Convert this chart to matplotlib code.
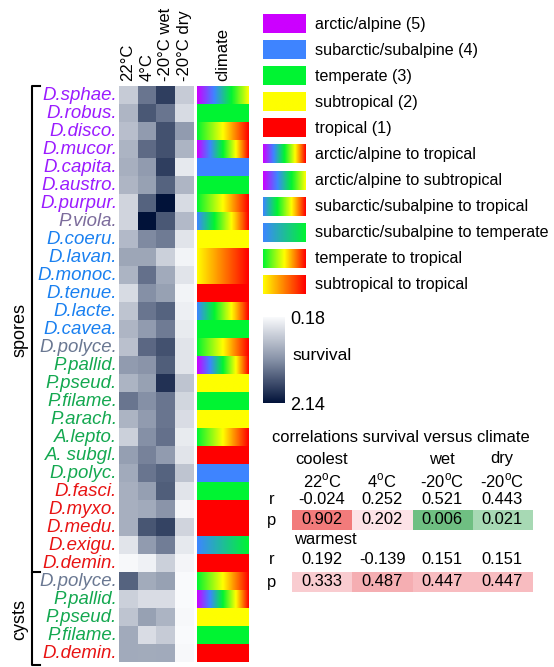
import numpy as np
import matplotlib.pyplot as plt
from matplotlib.colors import LinearSegmentedColormap
from matplotlib.patches import Rectangle

plt.rcParams['font.family'] = ['Liberation Sans', 'DejaVu Sans']
plt.rcParams['mathtext.fontset'] = 'custom'
plt.rcParams['mathtext.rm'] = 'Liberation Sans'

# data
species = ["D.sphae.", "D.robus.", "D.disco.", "D.mucor.", "D.capita.", "D.austro.",
           "D.purpur.", "P.viola.", "D.coeru.", "D.lavan.", "D.monoc.", "D.tenue.",
           "D.lacte.", "D.cavea.", "D.polyce.", "P.pallid.", "P.pseud.", "P.filame.",
           "P.arach.", "A.lepto.", "A. subgl.", "D.polyc.", "D.fasci.", "D.myxo.",
           "D.medu.", "D.exigu.", "D.demin.",
           "D.polyce.", "P.pallid.", "P.pseud.", "P.filame.", "D.demin."]
groups = ["arctic"] * 7 + ["viola"] + ["subarctic"] * 6 + ["polyce"] + ["temperate"] * 7 + \
         ["tropical"] * 5 + ["polyce", "temperate", "temperate", "temperate", "tropical"]
conditions = ["22°C", "4°C", "-20°C wet", "-20°C dry"]

# survival per row: 22C, 4C, -20C wet, -20C dry
survival = np.array([
    [0.61, 1.36, 1.79, 0.61],
    [0.81, 1.59, 1.36, 0.47],
    [0.73, 1.06, 1.65, 1.06],
    [0.83, 1.45, 1.65, 0.83],
    [0.87, 1.06, 1.79, 0.34],
    [0.81, 1.00, 1.51, 0.81],
    [0.53, 1.51, 2.14, 0.47],
    [0.53, 2.14, 1.59, 0.77],
    [0.77, 1.20, 1.32, 0.38],
    [0.96, 0.96, 0.57, 0.24],
    [0.83, 1.40, 0.92, 0.38],
    [0.47, 1.16, 1.00, 0.24],
    [0.67, 1.36, 1.51, 0.28],
    [0.81, 1.06, 1.32, 0.32],
    [0.71, 1.47, 1.65, 0.38],
    [1.06, 1.12, 1.55, 0.38],
    [0.83, 1.00, 1.89, 0.67],
    [1.36, 1.16, 1.36, 0.51],
    [0.83, 1.06, 1.36, 0.45],
    [0.57, 1.16, 1.40, 0.32],
    [1.02, 1.26, 1.06, 0.38],
    [0.92, 1.36, 1.51, 0.67],
    [0.87, 1.02, 1.55, 0.38],
    [0.87, 0.92, 1.12, 0.22],
    [0.87, 1.61, 1.75, 0.53],
    [0.38, 1.06, 1.30, 0.34],
    [0.20, 0.26, 0.57, 0.22],
    [1.51, 0.91, 1.00, 0.18],
    [0.57, 0.45, 0.45, 0.18],
    [0.67, 1.00, 0.83, 0.20],
    [0.92, 0.45, 0.61, 0.18],
    [0.92, 0.91, 0.92, 0.20],
])

# climate range per row: (from, to) with 5 arctic ... 1 tropical
clim_from = [5, 3, 3, 5, 4, 3, 3, 4, 2, 2, 2, 1, 4, 3, 3, 5, 2, 3, 2, 3, 1, 4, 3, 1, 1, 4, 1,
             3, 5, 2, 3, 1]
clim_to = [2, 3, 1, 1, 4, 3, 1, 1, 2, 1, 1, 1, 1, 3, 1, 1, 2, 3, 2, 1, 1, 4, 3, 1, 1, 3, 1,
           1, 1, 2, 3, 1]

legend_labels = ["arctic/alpine (5)", "subarctic/subalpine (4)", "temperate (3)",
                 "subtropical (2)", "tropical (1)", "arctic/alpine to tropical",
                 "arctic/alpine to subtropical", "subarctic/subalpine to tropical",
                 "subarctic/subalpine to temperate", "temperate to tropical",
                 "subtropical to tropical"]
legend_from = [5, 4, 3, 2, 1, 5, 5, 4, 4, 3, 2]
legend_to = [5, 4, 3, 2, 1, 1, 2, 1, 3, 1, 1]

corr_cols = ["22$^\\mathregular{o}$C", "4$^\\mathregular{o}$C",
             "-20$^\\mathregular{o}$C", "-20$^\\mathregular{o}$C"]
r_cool = ["-0.024", "0.252", "0.521", "0.443"]
p_cool = ["0.902", "0.202", "0.006", "0.021"]
r_warm = ["0.192", "-0.139", "0.151", "0.151"]
p_warm = ["0.333", "0.487", "0.447", "0.447"]
p_cool_col = ["#f27b7b", "#fde3e7", "#6fbf82", "#a7d9b4"]
p_warm_col = ["#f9ccd0", "#f5aeb2", "#f8bcc0", "#f8bcc0"]

# colours
name_col = {"arctic": "#9b1cff", "viola": "#7c6c9c", "subarctic": "#1a80f0",
            "polyce": "#6a7892", "temperate": "#14a850", "tropical": "#e81414"}
surv_cmap = LinearSegmentedColormap.from_list("surv", ["#f9fafc", "#8590a6", "#011239"])
clim_cmap = LinearSegmentedColormap.from_list(
    "clim", ["#ff0000", "#ffff00", "#00f531", "#3d86ff", "#cc00ff"])

W, H = 554, 667
fig = plt.figure(figsize=(W / 100, H / 100), dpi=100)


def px_axes(x0, y0, x1, y1):
    return fig.add_axes([x0 / W, 1 - y1 / H, (x1 - x0) / W, (y1 - y0) / H])


n = len(species)
top, rh = 86, 18

# heatmap
ax1 = px_axes(119, top, 194, top + n * rh)
ax1.imshow(survival, cmap=surv_cmap, vmin=0.18, vmax=2.14, aspect="auto",
           extent=[0, 4, n, 0], interpolation="nearest")
ax1.axis("off")

# climate column
ax2 = px_axes(197, top, 249, top + n * rh)
for i in range(n):
    grad = np.linspace(clim_from[i], clim_to[i], 200)[None, :]
    ax2.imshow(grad, cmap=clim_cmap, vmin=1, vmax=5, aspect="auto",
               extent=[0, 1, i + 1, i], interpolation="bilinear")
ax2.set_xlim(0, 1)
ax2.set_ylim(n, 0)
ax2.axis("off")

# colorbar
cax = px_axes(263, 317, 285, 403)
sm = plt.cm.ScalarMappable(cmap=surv_cmap, norm=plt.Normalize(0.18, 2.14))
cb = fig.colorbar(sm, cax=cax, ticks=[0.18, 2.14])
cb.ax.invert_yaxis()
cb.outline.set_visible(False)
cb.ax.tick_params(length=0, pad=4, labelsize=13)
cb.ax.set_yticklabels(["0.18", "2.14"])

# overlay for text, brackets, legend, table
ov = fig.add_axes([0, 0, 1, 1])
ov.set_xlim(0, W)
ov.set_ylim(H, 0)
ov.axis("off")

for i, name in enumerate(species):
    ov.text(117, top + rh * i + rh / 2 + 0.5, name, ha="right", va="center", fontsize=13.4,
            style="italic", color=name_col[groups[i]])

col_x = [128, 147, 165.5, 184.5]
for x, c in zip(col_x, conditions):
    ov.text(x, 81, c, rotation=90, ha="center", va="bottom", fontsize=12)
ov.text(223, 81, "climate", rotation=90, ha="center", va="bottom", fontsize=12)

# brackets
ov.plot([40, 32, 32], [86, 86, 572], color="black", lw=1.5)
ov.plot([40, 32, 32, 40], [572, 572, 665, 665], color="black", lw=1.5)
ov.text(20, 330, "spores", rotation=90, ha="center", va="center", fontsize=13)
ov.text(20, 620, "cysts", rotation=90, ha="center", va="center", fontsize=13)

# climate legend
for i, lab in enumerate(legend_labels):
    y0 = 14 + i * 26.1
    grad = np.linspace(legend_from[i], legend_to[i], 200)[None, :]
    ov.imshow(grad, cmap=clim_cmap, vmin=1, vmax=5, aspect="auto",
              extent=[263, 306, y0 + 19, y0], interpolation="bilinear")
    ov.text(315, y0 + 10, lab, ha="left", va="center", fontsize=11.6)
ov.set_xlim(0, W)
ov.set_ylim(H, 0)

ov.text(292, 356, "survival", ha="left", va="center", fontsize=12.5)

# correlation table
cx = [322, 382, 442, 502]
fs = 11.9
ov.text(272, 438, "correlations survival versus climate", ha="left", va="center", fontsize=fs)
ov.text(cx[0], 459, "coolest", ha="center", va="center", fontsize=fs)
ov.text(cx[2], 459, "wet", ha="center", va="center", fontsize=fs)
ov.text(cx[3], 459, "dry", ha="center", va="center", fontsize=fs)
for j in range(4):
    ov.text(cx[j], 481, corr_cols[j], ha="center", va="center", fontsize=fs)
    ov.add_patch(Rectangle((292 + 60.25 * j, 510), 60.25, 19.5, color=p_cool_col[j], lw=0))
    ov.add_patch(Rectangle((292 + 60.25 * j, 572), 60.25, 19.5, color=p_warm_col[j], lw=0))
    ov.text(cx[j], 500, r_cool[j], ha="center", va="center", fontsize=fs)
    ov.text(cx[j], 520, p_cool[j], ha="center", va="center", fontsize=fs)
    ov.text(cx[j], 559, r_warm[j], ha="center", va="center", fontsize=fs)
    ov.text(cx[j], 582, p_warm[j], ha="center", va="center", fontsize=fs)
ov.text(325, 540, "warmest", ha="center", va="center", fontsize=fs)
for y, t in [(500, "r"), (520, "p"), (559, "r"), (582, "p")]:
    ov.text(272, y, t, ha="center", va="center", fontsize=fs)

fig.savefig("out.png", dpi=100)
